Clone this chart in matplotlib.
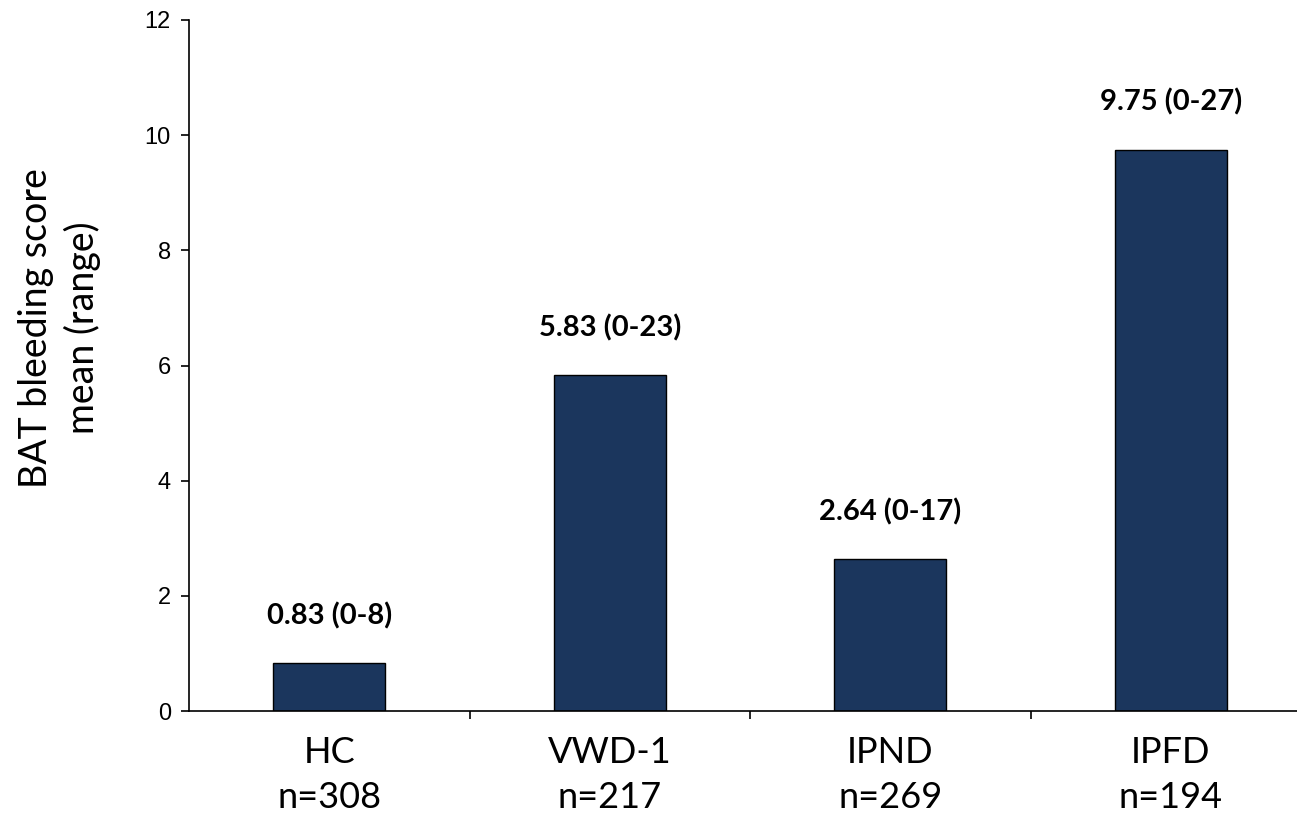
import matplotlib.pyplot as plt

# chart data
GROUPS = ["HC", "VWD-1", "IPND", "IPFD"]
N_PER_GROUP = [308, 217, 269, 194]
MEAN_SCORE = [0.83, 5.83, 2.64, 9.75]
SCORE_RANGE = ["0-8", "0-23", "0-17", "0-27"]

BAR_COLOR = "#1b365d"
TEXT_FONT = "Lato"
W, H = 1297, 815
DPI = 100


def main() -> None:
    fig = plt.figure(figsize=(W / DPI, H / DPI), dpi=DPI)
    # axes runs past the right edge of the figure like the original slide
    left, right = 189 / W, 1311 / W
    bottom, top = (H - 711) / H, (H - 20) / H
    ax = fig.add_axes([left, bottom, right - left, top - bottom])

    x = list(range(len(GROUPS)))
    ax.bar(x, MEAN_SCORE, width=0.4, color=BAR_COLOR, edgecolor="black", linewidth=1.0)

    for xi, m, r in zip(x, MEAN_SCORE, SCORE_RANGE):
        ax.annotate(
            f"{m:.2f} ({r})",
            xy=(xi, m),
            xytext=(0, 28),
            textcoords="offset points",
            ha="center",
            va="baseline",
            fontsize=21,
            fontweight="bold",
            family=TEXT_FONT,
        )

    ax.set_xlim(-0.5, len(GROUPS) - 0.5)
    ax.set_ylim(0, 12)
    ax.set_yticks(range(0, 13, 2))
    ax.tick_params(axis="y", direction="out", length=6, width=1.2, labelsize=17, pad=7)
    for lab in ax.get_yticklabels():
        lab.set_family("Liberation Sans")

    # category boundaries carry the ticks, labels sit at the bar centres
    ax.set_xticks([i - 0.5 for i in range(1, len(GROUPS))])
    ax.set_xticklabels([])
    ax.tick_params(axis="x", direction="out", length=6, width=1.2)
    ax.set_xticks(x, minor=True)
    ax.set_xticklabels([f"{g}\nn={n}" for g, n in zip(GROUPS, N_PER_GROUP)], minor=True)
    ax.tick_params(axis="x", which="minor", length=0, pad=18, labelsize=26)
    for lab in ax.get_xticklabels(minor=True):
        lab.set_family(TEXT_FONT)
        lab.set_linespacing(1.45)

    ax.set_ylabel("BAT bleeding score\nmean (range)", fontsize=27, family=TEXT_FONT,
                  linespacing=1.35)
    ax.yaxis.set_label_coords(-0.078, 0.554)

    ax.spines["top"].set_visible(False)
    ax.spines["right"].set_visible(False)
    ax.spines["left"].set_linewidth(1.2)
    ax.spines["bottom"].set_linewidth(1.2)

    fig.savefig("out.png", dpi=DPI)
    plt.close(fig)


if __name__ == "__main__":
    main()
